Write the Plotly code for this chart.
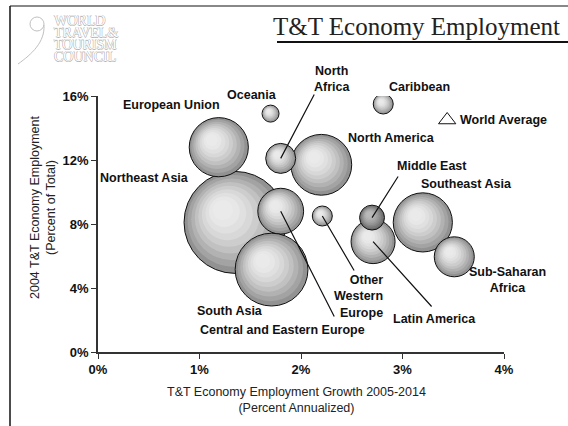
import plotly.graph_objects as go

# --- data ---
regions = ["Northeast Asia", "North America", "European Union", "North Africa",
           "Central and Eastern Europe", "South Asia", "Latin America", "Middle East",
           "Southeast Asia", "Sub-Saharan Africa", "Oceania", "Caribbean",
           "Other Western Europe"]
growth = [1.35, 2.20, 1.19, 1.80, 1.80, 1.71, 2.71, 2.70, 3.20, 3.51, 1.70, 2.81, 2.21]   # % annualized 2005-2014
share = [8.1, 11.7, 12.8, 12.1, 8.8, 5.15, 6.9, 8.4, 8.1, 5.95, 14.9, 15.5, 8.5]         # % of total, 2004
jobs = [104, 37, 35, 9, 21, 53, 19.4, 6.2, 35, 16, 2.9, 4, 4]                            # bubble size (relative)

world_growth = 1.63
world_share = 8.2

x_ticks = [0, 1, 2, 3, 4]
y_ticks = [0, 4, 8, 12, 16]

# --- geometry helpers (plot area in pixels) ---
L, T, W, H = 98, 96, 406, 256
XMAX, YMAX = 4, 16
def px(x):
    return (x - L) / W
def py(y):
    return (T + H - y) / H

SIZEREF = 0.01  # diameter (px) = sqrt(jobs / SIZEREF)
FONT = "Liberation Sans, Arial, sans-serif"
SERIF = "Liberation Serif, Times New Roman, serif"

# stepped shading like the original spheres: outer ring dark, light spot up-left
N_BANDS = 9
def band_colors(lo, hi):
    out = []
    for k in range(N_BANDS):
        t = k / (N_BANDS - 1)
        t = 1 - (1 - t) ** 1.6
        v = int(round(lo + (hi - lo) * t))
        out.append("rgb(%d,%d,%d)" % (v, v, v))
    return out

fig = go.Figure()

for name, gx, sy, j in zip(regions, growth, share, jobs):
    dark = name == "Middle East"
    d = (j / SIZEREF) ** 0.5
    r = d / 2
    cols = band_colors(105, 185) if dark else band_colors(146, 234)
    bx, by, bs, lw = [], [], [], []
    for k in range(N_BANDS):
        s = 1 - 0.8 * k / (N_BANDS - 1)
        off = (1 - s) * 0.3 * r
        bx.append(gx - off * XMAX / W)
        by.append(sy + off * YMAX / H)
        bs.append(s * d)
        lw.append(1 if k == 0 else 0)
    fig.add_trace(go.Scatter(
        x=bx, y=by, mode="markers", hoverinfo="text", text=[name] * N_BANDS,
        marker=dict(size=bs, sizemode="diameter", color=cols,
                    line=dict(color="#111", width=lw), opacity=1),
        showlegend=False))

# world average markers on the axes and in the key
fig.add_trace(go.Scatter(x=[world_growth], y=[-0.45], mode="markers", cliponaxis=False,
                         marker=dict(symbol="triangle-up-open", size=13, color="#111",
                                     line=dict(width=1)), showlegend=False, hoverinfo="skip"))
fig.add_trace(go.Scatter(x=[-0.064], y=[world_share], mode="markers", cliponaxis=False,
                         marker=dict(symbol="triangle-right-open", size=13, color="#111",
                                     line=dict(width=1)), showlegend=False, hoverinfo="skip"))
fig.add_trace(go.Scatter(x=[3.44], y=[14.5], mode="markers", cliponaxis=False,
                         marker=dict(symbol="triangle-up-open", size=15, color="#111",
                                     line=dict(width=1)), showlegend=False, hoverinfo="skip"))

# labels (text, x in %, y in %, xanchor, align)
labels = [
    ("European Union", 0.729, 15.44, "center", "center"),
    ("Oceania", 1.522, 16.06, "center", "center"),
    ("North<br>Africa", 2.305, 17.06, "center", "center"),
    ("Caribbean", 3.163, 16.56, "center", "center"),
    ("World Average", 3.547, 14.5, "left", "left"),
    ("North America", 2.887, 13.375, "center", "center"),
    ("Northeast Asia", 0.463, 10.875, "center", "center"),
    ("Middle East", 3.291, 11.625, "center", "center"),
    ("Southeast Asia", 3.635, 10.5, "center", "center"),
    ("Sub-Saharan<br>Africa", 4.03, 4.47, "center", "center"),
    ("Latin America", 3.315, 2.06, "center", "center"),
    ("Other<br>Western<br>Europe", 2.828, 3.5, "right", "right"),
    ("South Asia", 1.296, 2.56, "center", "center"),
    ("Central and Eastern Europe", 1.813, 1.375, "center", "center"),
]
for txt, lx, ly, xa, al in labels:
    fig.add_annotation(xref="paper", yref="paper", x=lx / XMAX, y=ly / YMAX,
                       text="<b>%s</b>" % txt, showarrow=False, xanchor=xa, yanchor="middle",
                       align=al, font=dict(family=FONT, size=12.5, color="#111"))

# leader lines: region -> tail point of the line
leaders = {
    "North Africa": (2.138, 16.19),
    "Middle East": (2.966, 11.06),
    "Other Western Europe": (2.532, 5.0),
    "Latin America": (3.30, 2.75),
    "Central and Eastern Europe": (2.335, 2.125),
}
for name, (tx, ty) in leaders.items():
    i = regions.index(name)
    fig.add_annotation(x=growth[i], y=share[i], ax=tx, ay=ty, axref="x", ayref="y",
                       text="", showarrow=True, arrowhead=0, arrowwidth=1.2, arrowcolor="#111")

# axis titles
fig.add_annotation(xref="paper", yref="paper", x=px(296), y=py(400), xanchor="center", yanchor="middle",
                   showarrow=False,
                   text="T&T Economy Employment Growth 2005-2014<br>(Percent Annualized)",
                   font=dict(family=FONT, size=12.5, color="#222"))
fig.add_annotation(xref="paper", yref="paper", x=px(43), y=py(208), xanchor="center", yanchor="middle",
                   showarrow=False, textangle=-90,
                   text="2004 T&T Economy Employment<br>(Percent of Total)",
                   font=dict(family=FONT, size=12.5, color="#222"))

# page title and frame
fig.add_annotation(xref="paper", yref="paper", x=px(562), y=py(26), xanchor="right", yanchor="middle",
                   showarrow=False, text="T&T Economy Employment",
                   font=dict(family=SERIF, size=25, color="#222"))
fig.add_shape(type="line", xref="paper", yref="paper", x0=px(277), x1=px(568), y0=py(42), y1=py(42),
              line=dict(color="#111", width=2))
fig.add_shape(type="line", xref="paper", yref="paper", x0=px(10), x1=px(568), y0=py(6), y1=py(6),
              line=dict(color="#888", width=2))
fig.add_shape(type="line", xref="paper", yref="paper", x0=px(10), x1=px(10), y0=py(6), y1=py(426),
              line=dict(color="#111", width=1.5))

# faint council logo
for k, word in enumerate(["WORLD", "TRAVEL&", "TOURISM", "COUNCIL"]):
    fig.add_annotation(xref="paper", yref="paper", x=px(52), y=py(20 + 12.3 * k),
                       xanchor="left", yanchor="middle", showarrow=False, text=word,
                       font=dict(family=SERIF, size=14, color="#ffffff",
                                 shadow="0.5px 0 #b4b4b4, -0.5px 0 #b4b4b4, 0 0.5px #b4b4b4, 0 -0.5px #b4b4b4"))
fig.add_shape(type="circle", xref="paper", yref="paper", x0=px(30), x1=px(44), y0=py(31), y1=py(17),
              line=dict(color="#c0c0c0", width=1))
fig.add_shape(type="path", xref="paper", yref="paper",
              path="M %f %f C %f %f, %f %f, %f %f" % (px(44), py(25), px(45), py(42), px(32), py(54), px(18), py(64)),
              line=dict(color="#c0c0c0", width=1))

fig.update_layout(
    width=568, height=426, margin=dict(l=L, r=568 - L - W, t=T, b=426 - T - H),
    paper_bgcolor="white", plot_bgcolor="white",
    font=dict(family=FONT, color="#111"),
    xaxis=dict(range=[0, XMAX], tickvals=x_ticks, ticktext=["%d%%" % v for v in x_ticks],
               showgrid=False, zeroline=False,
               showline=True, linecolor="#333", linewidth=1.5, ticks="outside", ticklen=5,
               tickcolor="#333", tickfont=dict(family=FONT, size=13, color="#111", weight="bold")),
    yaxis=dict(range=[0, YMAX], tickvals=y_ticks, ticktext=["%d%%" % v for v in y_ticks],
               showgrid=False, zeroline=False,
               showline=True, linecolor="#333", linewidth=1.5, ticks="outside", ticklen=5,
               tickcolor="#333", tickfont=dict(family=FONT, size=13, color="#111", weight="bold")),
)

# drop the browser's default page margin so the figure sits at the window corner
fig.write_html("out.html", config={"displayModeBar": False},
               post_script="document.body.style.margin='0';")
